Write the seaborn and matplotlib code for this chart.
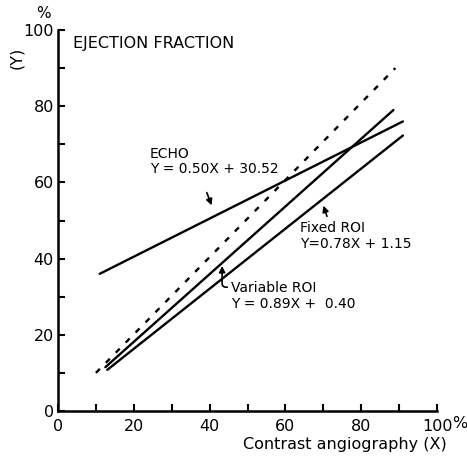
import matplotlib
matplotlib.use("Agg")
import matplotlib.pyplot as plt
import seaborn as sns
import pandas as pd

sns.set_theme(style="ticks")
plt.rcParams['font.family'] = ['DejaVu Sans']
plt.rcParams['text.color'] = 'black'

# Data (line end points, in %)
echo_x = [11, 91]
echo_y = [36, 76]
variable_x = [12.5, 88.5]
variable_y = [11.5, 79]
fixed_x = [13, 91]
fixed_y = [10.8, 72.3]
identity_x = [10, 89]
identity_y = [10, 90]

x_ticks = [0, 20, 40, 60, 80, 100]
y_ticks = [0, 20, 40, 60, 80, 100]

fig = plt.figure(figsize=(4.67, 4.58), dpi=100)
ax = fig.add_axes([58/467, 1-411/458, (437-58)/467, (411-30)/458])

lw = 1.7
for xs, ys in [(echo_x, echo_y), (variable_x, variable_y), (fixed_x, fixed_y)]:
    sns.lineplot(x=xs, y=ys, ax=ax, color='black', linewidth=lw)
sns.lineplot(x=identity_x, y=identity_y, ax=ax, color='black', linewidth=lw,
             linestyle=(0, (2.4, 3.6)))

ax.set_xlim(0, 100)
ax.set_ylim(0, 100)
ax.set_xticks(x_ticks)
ax.set_yticks(y_ticks)
ax.set_xticks([10, 30, 50, 70, 90], minor=True)
ax.set_yticks([10, 30, 50, 70, 90], minor=True)
ax.tick_params(which='both', direction='in', width=1.5, length=5, labelsize=11.5,
               colors='black', labelcolor='black')
ax.tick_params(axis='x', pad=6)
ax.tick_params(axis='y', pad=3)
for s in ['top', 'right']:
    ax.spines[s].set_visible(False)
for s in ['left', 'bottom']:
    ax.spines[s].set_linewidth(1.8)
    ax.spines[s].set_color('black')
ax.set_xlabel('')
ax.set_ylabel('')

# Axis texts
fig.text(460/467, 1-423/458, '%', fontsize=11.5, ha='center', va='center', color='black')
fig.text(447/467, 1-444/458, 'Contrast angiography (X)', fontsize=11.5, ha='right', va='center', color='black')
fig.text(17/467, 1-58/458, '(Y)', fontsize=11.5, rotation=90, ha='center', va='center', color='black')
fig.text(43/467, 1-14/458, '%', fontsize=11, ha='center', va='center', color='black')

ax.text(4, 96.5, 'EJECTION FRACTION', fontsize=11.5, ha='left', va='center', color='black')

# Line labels
ax.text(24.3, 65.5, 'ECHO\nY = 0.50X + 30.52', fontsize=10, ha='left', va='center',
        linespacing=1.15, color='black')
ax.annotate('', xy=(40.8, 53.3), xytext=(39.0, 58.0),
            arrowprops=dict(arrowstyle='-|>', color='black', lw=1.2, mutation_scale=9))

ax.text(63.9, 46.0, 'Fixed ROI\nY=0.78X + 1.15', fontsize=10, ha='left', va='center',
        linespacing=1.15, color='black')
ax.annotate('', xy=(69.8, 54.6), xytext=(71.2, 50.4),
            arrowprops=dict(arrowstyle='-|>', color='black', lw=1.2, mutation_scale=9))

ax.text(45.6, 30.2, 'Variable ROI\nY = 0.89X +  0.40', fontsize=10, ha='left', va='center',
        linespacing=1.15, color='black')
ax.annotate('', xy=(43.3, 38.8), xytext=(45.4, 32.5),
            arrowprops=dict(arrowstyle='-|>', color='black', lw=1.2, mutation_scale=9,
                            connectionstyle='angle,angleA=0,angleB=90,rad=4'))

fig.savefig('out.png', dpi=100, facecolor='white')
